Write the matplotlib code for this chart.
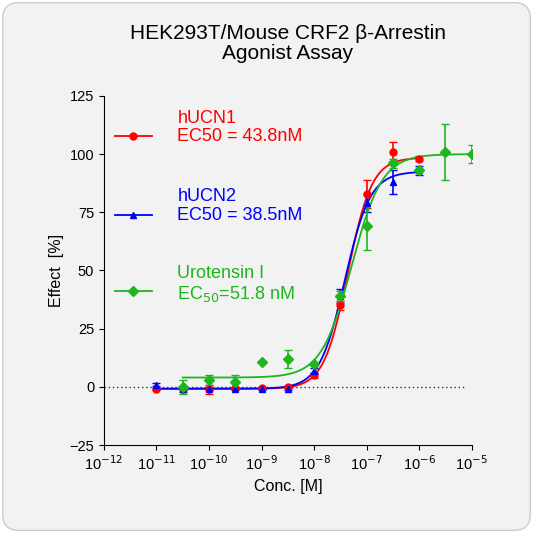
import numpy as np
import matplotlib.pyplot as plt
from matplotlib.patches import FancyBboxPatch

plt.rcParams['font.family'] = ['Liberation Sans', 'DejaVu Sans']

conc1 = [1e-11, 3.16e-11, 1e-10, 3.16e-10, 1e-9, 3.16e-9, 1e-8, 3.16e-8, 1e-7, 3.16e-7, 1e-6]
ucn1 = [-1, -1, -1, -0.5, -0.5, 0, 5, 35, 83, 101, 98]
ucn1_err = [0.5, 1, 2, 0.5, 0.5, 0.5, 1, 2, 6, 4, 1]
ucn2 = [1, -1, -1, -1, -1, -1, 7, 39, 79, 88, 93]
ucn2_err = [0.5, 0.5, 0.5, 0.5, 0.5, 0.5, 1, 3, 4, 5, 2]
conc3 = [3.16e-11, 1e-10, 3.16e-10, 1e-9, 3.16e-9, 1e-8, 3.16e-8, 1e-7, 3.16e-7, 1e-6, 3.16e-6, 1e-5]
uro = [0, 3, 2, 10.5, 12, 10, 39, 69, 96, 93, 101, 100]
uro_err = [3, 2, 3, 0, 4, 0, 2, 10, 2, 0, 12, 4]

def fit(x, bottom, top, ec50, hill):
    return bottom + (top - bottom) / (1 + (ec50 / x) ** hill)

fig = plt.figure(figsize=(5.33, 5.33), dpi=100)
fig.patch.set_facecolor('white')
bg = FancyBboxPatch((0.005, 0.005), 0.99, 0.99, boxstyle="round,pad=0,rounding_size=0.03",
                    transform=fig.transFigure, facecolor='#f2f2f2', edgecolor='#cccccc', lw=1, zorder=-10)
fig.patches.append(bg)
ax = fig.add_axes([0.195, 0.165, 0.69, 0.655])
ax.patch.set_alpha(0)
ax.set_xscale('log')
ax.set_xlim(1e-12, 1e-5)
ax.set_ylim(-25, 125)

series = [
    (conc1, ucn1, ucn1_err, 'red', 'o', (-0.8, 98.5, 43.8e-9, 1.9), 'hUCN1\nEC50 = 43.8nM', 1e-11, 1e-6),
    (conc1, ucn2, ucn2_err, 'blue', '^', (-0.8, 92.5, 38.5e-9, 1.8), 'hUCN2\nEC50 = 38.5nM', 1e-11, 1e-6),
    (conc3, uro, uro_err, '#1fb51f', 'D', (4.0, 100, 51.8e-9, 1.5), 'Urotensin I\nEC$_{50}$=51.8 nM', 3.16e-11, 1e-5),
]
ax.axhline(0, color='#333333', ls=(0, (1, 2)), lw=1, xmax=0.98)
for x, y, e, c, m, p, lab, x0, x1 in series:
    xs = np.logspace(np.log10(x0), np.log10(x1), 300)
    ax.plot(xs, fit(xs, *p), color=c, lw=1.3)
    ax.errorbar(x, y, yerr=e, fmt=m, color=c, ms=5, capsize=3, elinewidth=1.2, lw=0)

ys = [0.885, 0.66, 0.44]
for (x, y, e, c, m, p, lab, x0, x1), yy in zip(series, ys):
    ax.plot([0.03, 0.13], [yy, yy], color=c, lw=1.3, transform=ax.transAxes)
    ax.plot([0.08], [yy], marker=m, color=c, ms=5, transform=ax.transAxes)
    ax.text(0.2, yy + 0.075, lab, color=c, fontsize=13, transform=ax.transAxes, va='top', linespacing=1.1)

ax.set_xticks([10.0**k for k in range(-12, -4)])
ax.set_xticklabels([f'10$^{{{k}}}$' for k in range(-12, -4)])
ax.set_yticks([-25, 0, 25, 50, 75, 100, 125])
ax.tick_params(labelsize=10.5)
ax.minorticks_off()
for s in ['top', 'right']:
    ax.spines[s].set_visible(False)
ax.set_xlabel('Conc. [M]', fontsize=11.5)
ax.set_ylabel('Effect  [%]', fontsize=11.5)
fig.text(0.54, 0.955, 'HEK293T/Mouse CRF2 β-Arrestin\nAgonist Assay', ha='center', va='top', fontsize=15, linespacing=1.1)
fig.savefig('out.png', dpi=100)
